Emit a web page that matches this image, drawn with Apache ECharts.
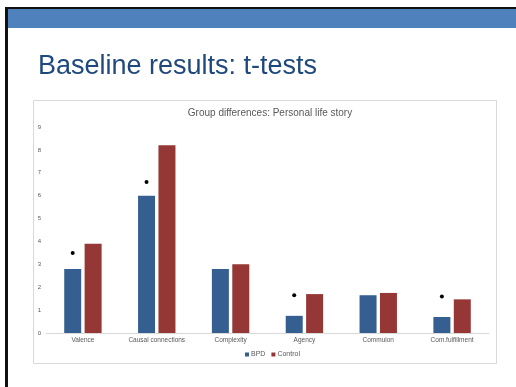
<!DOCTYPE html>
<html>
<head>
<meta charset="utf-8">
<script src="https://cdn.jsdelivr.net/npm/echarts@6/dist/echarts.min.js"></script>
<style>
  html, body { margin: 0; padding: 0; background: #ffffff; }
  #chart { width: 516px; height: 387px; }
</style>
</head>
<body>
<div id="chart"></div>
<script>
// Narrative coding scores per group
const categories = ['Valence', 'Causal connections', 'Complexity', 'Agency', 'Commuion', 'Com.fulfillment'];
const bpdValues = [2.8, 6.0, 2.8, 0.75, 1.65, 0.7];
const controlValues = [3.9, 8.2, 3.0, 1.7, 1.75, 1.47];
// Significant group differences (dot drawn above the BPD bar)
const sigMarks = [[0, 3.5], [1, 6.6], [3, 1.65], [5, 1.6]];
const yTicks = [0, 1, 2, 3, 4, 5, 6, 7, 8, 9];

const chart = echarts.init(document.getElementById('chart'), null, { renderer: 'canvas' });

const labelFont = 'Liberation Sans, Arial, sans-serif';

chart.setOption({
  animation: false,
  backgroundColor: '#ffffff',
  title: {
    text: 'Group differences: Personal life story',
    left: 265,
    top: 103,
    textAlign: 'center',
    textStyle: { fontSize: 10, fontWeight: 'normal', color: '#595959', fontFamily: labelFont }
  },
  legend: {
    data: ['BPD', 'Control'],
    left: 240,
    top: 346,
    itemWidth: 4,
    itemHeight: 4,
    itemGap: 6,
    icon: 'rect',
    textStyle: { fontSize: 7, color: '#595959', fontFamily: labelFont, padding: [0, 0, 0, -3] }
  },
  grid: { left: 46, right: 27, top: 127, bottom: 54 },
  xAxis: {
    type: 'category',
    data: categories,
    axisLine: { lineStyle: { color: '#d9d9d9', width: 1 } },
    axisTick: { show: false },
    axisLabel: { fontSize: 6.5, color: '#595959', margin: 4, fontFamily: labelFont, interval: 0 }
  },
  yAxis: {
    type: 'value',
    min: yTicks[0],
    max: yTicks[yTicks.length - 1],
    interval: 1,
    axisLine: { show: false },
    axisTick: { show: false },
    splitLine: { show: false },
    axisLabel: { fontSize: 6, color: '#595959', margin: 5, fontFamily: labelFont }
  },
  series: [
    {
      name: 'BPD',
      type: 'bar',
      data: bpdValues,
      barWidth: 17,
      barGap: '20%',
      itemStyle: { color: '#355F91' },
      markPoint: {
        symbol: 'circle',
        symbolSize: 4,
        itemStyle: { color: '#000000' },
        label: { show: false },
        data: sigMarks.map(d => ({ coord: d }))
      }
    },
    {
      name: 'Control',
      type: 'bar',
      data: controlValues,
      barWidth: 17,
      itemStyle: { color: '#953735' }
    }
  ],
  graphic: [
    // slide header band
    { type: 'rect', shape: { x: 5, y: 9, width: 511, height: 19 }, style: { fill: '#4F81BD' }, silent: true },
    { type: 'rect', shape: { x: 5, y: 7, width: 511, height: 2 }, style: { fill: '#111111' }, silent: true },
    { type: 'rect', shape: { x: 5, y: 7, width: 3, height: 380 }, style: { fill: '#111111' }, silent: true },
    // slide title
    {
      type: 'text', left: 38, top: 53,
      style: { text: 'Baseline results: t-tests', fontSize: 27, fill: '#1F497D', fontFamily: labelFont }
    },
    // chart frame
    {
      type: 'rect', z: -1,
      shape: { x: 33.5, y: 100.5, width: 463, height: 263 },
      style: { fill: 'none', stroke: '#d9d9d9', lineWidth: 1 }, silent: true
    }
  ]
});
</script>
</body>
</html>
